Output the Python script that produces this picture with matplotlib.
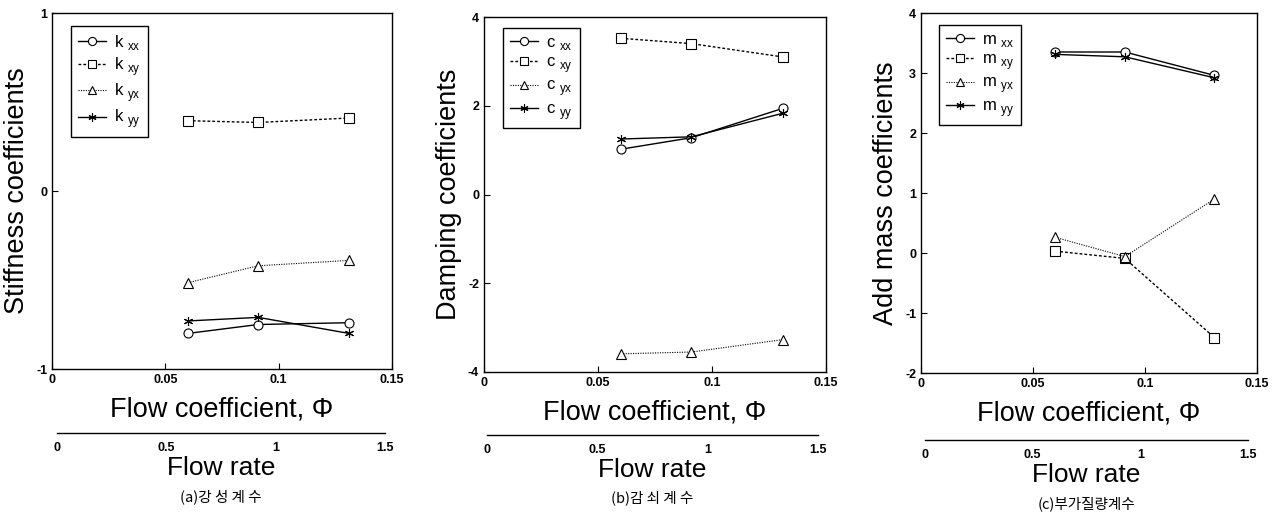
import numpy as np
import matplotlib
matplotlib.use("Agg")
import matplotlib.pyplot as plt

plt.rcParams['font.family'] = ['Liberation Sans', 'DejaVu Sans']
plt.rcParams['axes.unicode_minus'] = False

# flow coefficient of the three test points
phi = [0.06, 0.091, 0.131]

# (a) stiffness
k_xx = [-0.80, -0.75, -0.74]
k_xy = [0.395, 0.385, 0.41]
k_yx = [-0.515, -0.42, -0.39]
k_yy = [-0.73, -0.71, -0.80]

# (b) damping
c_xx = [1.02, 1.28, 1.94]
c_xy = [3.52, 3.40, 3.10]
c_yx = [-3.59, -3.55, -3.27]
c_yy = [1.25, 1.30, 1.83]

# (c) added mass
m_xx = [3.35, 3.35, 2.96]
m_xy = [0.03, -0.09, -1.41]
m_yx = [0.26, -0.06, 0.90]
m_yy = [3.31, 3.27, 2.92]

phi_ticks = [0, 0.05, 0.1, 0.15]
phi_ticklabels = ['0', '0.05', '0.1', '0.15']
rate_ticks = [0, 0.5, 1, 1.5]
rate_ticklabels = ['0', '0.5', '1', '1.5']

W, H = 1282, 514
fig = plt.figure(figsize=(W / 100, H / 100), dpi=100)


def px(l, t, w, h):
    return [l / W, 1 - (t + h) / H, w / W, h / H]


styles = [
    dict(marker='o', linestyle='-', lw=1.0),
    dict(marker='s', linestyle=(0, (2, 1.5)), lw=1.0),
    dict(marker='^', linestyle=(0, (1, 1.2)), lw=0.8),
    dict(marker=(6, 2, 0), linestyle='-', lw=1.0),
]

panels = [
    dict(box=(52, 13, 340, 356), ylim=(-1, 1), yticks=[-1, 0, 1],
         ylabel='Stiffness coefficients', sym='k',
         data=[k_xx, k_xy, k_yx, k_yy], leg=(19, 13),
         rate=(57, 433, 328), cap='(a)강 성 계 수', capy=497),
    dict(box=(484, 17, 342, 355), ylim=(-4, 4), yticks=[-4, -2, 0, 2, 4],
         ylabel='Damping coefficients', sym='c',
         data=[c_xx, c_xy, c_yx, c_yy], leg=(19, 11),
         rate=(487, 435, 331), cap='(b)감 쇠 계 수', capy=498),
    dict(box=(921, 13, 336, 360), ylim=(-2, 4), yticks=[-2, -1, 0, 1, 2, 3, 4],
         ylabel='Add mass coefficients', sym='m',
         data=[m_xx, m_xy, m_yx, m_yy], leg=(18, 12),
         rate=(925, 440, 323), cap='(c)부가질량계수', capy=504),
]

names = ['xx', 'xy', 'yx', 'yy']

for p in panels:
    l, t, w, h = p['box']
    ax = fig.add_axes(px(l, t, w, h))
    for vals, st, nm in zip(p['data'], styles, names):
        ax.plot(phi, vals, color='black', linestyle=st['linestyle'], lw=st['lw'],
                marker=st['marker'], markersize=6.5, markerfacecolor='white',
                markeredgecolor='black', markeredgewidth=0.8,
                label=p['sym'] + r' $_{\mathregular{' + nm + '}}$')
    ax.set_xlim(0, 0.15)
    ax.set_ylim(*p['ylim'])
    ax.set_xticks(phi_ticks)
    ax.set_xticklabels(phi_ticklabels, fontsize=9, fontweight='bold')
    ax.set_yticks(p['yticks'])
    ax.set_yticklabels([str(v) for v in p['yticks']], fontsize=9, fontweight='bold')
    ax.tick_params(direction='in', length=4, width=0.8)
    for s in ax.spines.values():
        s.set_linewidth(1.0)
    ax.set_xlabel('Flow coefficient, Φ', fontsize=19.5, labelpad=8)
    ax.set_ylabel(p['ylabel'], fontsize=19.5, labelpad=4)
    ox, oy = p['leg']
    ax.legend(loc='upper left', bbox_to_anchor=(ox / w, 1 - oy / h),
              borderaxespad=0, fontsize=12, handlelength=1.7, handletextpad=0.5,
              labelspacing=0.2, fancybox=False, edgecolor='black',
              framealpha=1, borderpad=0.4, markerscale=0.9)
    ax.get_legend().get_frame().set_linewidth(1.0)

    # flow rate scale underneath
    rl, rt, rw = p['rate']
    ax2 = fig.add_axes(px(rl, rt, rw, 1))
    ax2.set_xlim(0, 1.5)
    ax2.set_yticks([])
    for side in ['left', 'right', 'bottom']:
        ax2.spines[side].set_visible(False)
    ax2.spines['top'].set_linewidth(1.0)
    ax2.patch.set_visible(False)
    ax2.set_xticks(rate_ticks)
    ax2.set_xticklabels(rate_ticklabels, fontsize=9, fontweight='bold')
    ax2.tick_params(axis='x', length=0, pad=6)
    ax2.set_xlabel('Flow rate', fontsize=19, labelpad=1)
    fig.text((rl + rw / 2) / W, 1 - p['capy'] / H, p['cap'], ha='center', va='center',
             fontsize=10.5, family=['Noto Sans CJK KR', 'DejaVu Sans'])

fig.savefig('out.png', dpi=100)
